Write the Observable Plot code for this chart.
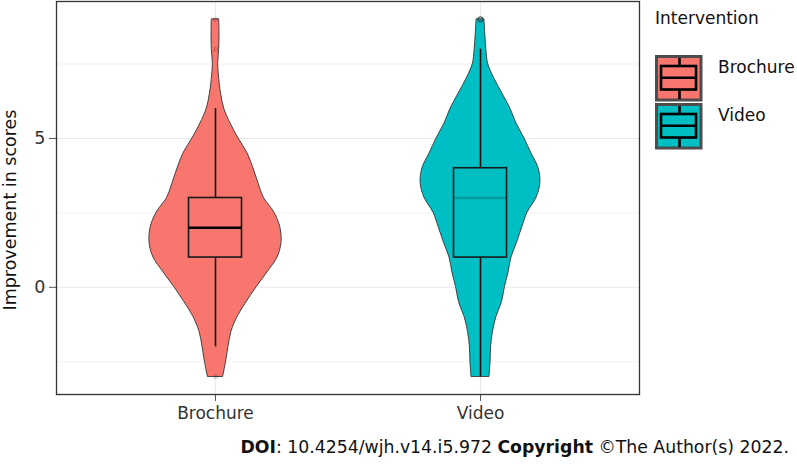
<!DOCTYPE html>
<html><head><meta charset="utf-8">
<script src="https://cdn.jsdelivr.net/npm/d3@7"></script>
<script src="https://cdn.jsdelivr.net/npm/@observablehq/plot@0.6"></script>
<style>
body{margin:0;background:#fff;font-family:"DejaVu Sans",sans-serif;}
#wrap{position:relative;width:797px;height:464px;overflow:hidden;}
#wrap > svg{position:absolute;left:0;top:0;}
#caption{position:absolute;right:8px;top:436px;font-size:17.3px;line-height:22px;color:#111;white-space:nowrap;}
</style></head><body><div id="wrap"></div>
<script>
// ---- data ----
const categories = ["Brochure", "Video"];
const colors = ["#F8766D", "#00BFC4"];
const densityY = [-3, -2.5, -2, -1.5, -1, -0.5, 0, 0.5, 1, 1.5, 2, 2.5, 3, 3.5, 4, 4.5, 5, 5.5, 6, 6.5, 7, 7.5, 8, 8.5, 9];
const brochureHalfWidth = [0.029, 0.040, 0.049, 0.060, 0.083, 0.117, 0.155, 0.196, 0.234, 0.249, 0.245, 0.223, 0.183, 0.162, 0.143, 0.121, 0.087, 0.057, 0.033, 0.021, 0.014, 0.010, 0.014, 0.015, 0.014];
const videoHalfWidth = [0.034, 0.038, 0.040, 0.047, 0.060, 0.081, 0.092, 0.106, 0.117, 0.138, 0.157, 0.177, 0.211, 0.226, 0.219, 0.192, 0.166, 0.136, 0.113, 0.083, 0.053, 0.029, 0.022, 0.018, 0.015];
const lowerQuartile = [1, 1];
const medians = [2, 3];
const upperQuartile = [3, 4];
const whiskerLow = [-2, -3];
const whiskerHigh = [6, 8];
const outlierGroup = ["Brochure", "Brochure", "Brochure", "Video"];
const outlierValue = [8, 9, -3, 9];
const yTicks = [0, 5];
const yMinorTicks = [-2.5, 2.5, 7.5];
const yTitle = "Improvement in scores";
const legendTitle = "Intervention";

// ---- tables ----
const halfWidths = [brochureHalfWidth, videoHalfWidth];
const violin = [];
categories.forEach((c, i) => densityY.forEach((y, j) => violin.push({group: c, pos: i + 1, y, w: halfWidths[i][j]})));
const boxes = categories.map((c, i) => ({group: c, pos: i + 1, q1: lowerQuartile[i], med: medians[i], q3: upperQuartile[i], lo: whiskerLow[i], hi: whiskerHigh[i]}));
const outliers = outlierGroup.map((g, i) => ({group: g, pos: categories.indexOf(g) + 1, y: outlierValue[i]}));
const bw = 0.1;

const chart = Plot.plot({
  width: 797, height: 430,
  marginTop: 1, marginLeft: 56, marginRight: 158, marginBottom: 36,
  x: {domain: [0.4, 2.6]},
  y: {domain: [-3.6, 9.6]},
  color: {domain: categories, range: colors},
  style: {fontFamily: "DejaVu Sans", fontSize: "17px", color: "#333", background: "#fff"},
  marks: [
    Plot.gridY(yMinorTicks, {stroke: "#ececec", strokeOpacity: 1, strokeWidth: 0.7}),
    Plot.gridY(yTicks, {stroke: "#e8e8e8", strokeOpacity: 1, strokeWidth: 1.1}),
    Plot.gridX([1, 2], {stroke: "#e8e8e8", strokeOpacity: 1, strokeWidth: 1.1}),
    Plot.areaX(violin, {y: "y", x1: d => d.pos - d.w, x2: d => d.pos + d.w, z: "group", fill: "group", stroke: "#333", strokeWidth: 0.9, curve: "catmull-rom"}),
    Plot.ruleX(boxes, {x: "pos", y1: "q3", y2: "hi", stroke: "#111", strokeWidth: 1.6}),
    Plot.ruleX(boxes, {x: "pos", y1: "lo", y2: "q1", stroke: "#111", strokeWidth: 1.6}),
    Plot.rect(boxes, {x1: d => d.pos - bw, x2: d => d.pos + bw, y1: "q1", y2: "q3", fill: "group", stroke: "#1a1a1a", strokeWidth: 1.6}),
    Plot.ruleY(boxes, {y: "med", x1: d => d.pos - bw, x2: d => d.pos + bw, stroke: "#000", strokeWidth: 2.4, strokeOpacity: d => d.group === "Video" ? 0.18 : 1}),
    Plot.dot(outliers, {x: "pos", y: "y", r: 2.6, fill: "#000", fillOpacity: 0.12, stroke: d => d.group === "Video" ? "#333" : "none", strokeWidth: 1}),
    Plot.axisY(yTicks, {tickSize: 7, tickPadding: 4, label: null, stroke: "#555", fill: "#333", fontSize: 17.5}),
    Plot.axisX([1, 2], {tickSize: 7, tickPadding: 5, label: null, tickFormat: d => categories[d - 1], stroke: "#555", fill: "#333", fontSize: 17}),
    Plot.frame({stroke: "#333", strokeWidth: 1.3})
  ]
});
const wrap = document.getElementById("wrap");
wrap.appendChild(chart);

// ---- overlay: y title and legend ----
const ov = d3.select(wrap).append("svg").attr("width", 797).attr("height", 464)
  .style("font-family", "DejaVu Sans").style("pointer-events", "none");
ov.append("text").attr("transform", "translate(16,210) rotate(-90)").attr("text-anchor", "middle")
  .attr("font-size", 17.5).attr("fill", "#111").text(yTitle);
ov.append("text").attr("x", 655).attr("y", 24).attr("font-size", 17).attr("fill", "#111").text(legendTitle);
categories.forEach((c, i) => {
  const top = 55 + i * 48;
  const g = ov.append("g");
  g.append("rect").attr("x", 656.5).attr("y", top + 1.5).attr("width", 44.5).attr("height", 43.5)
    .attr("fill", colors[i]).attr("stroke", "#4d4d4d").attr("stroke-width", 3);
  g.append("line").attr("x1", 679.5).attr("x2", 679.5).attr("y1", top + 3).attr("y2", top + 44).attr("stroke", "#000").attr("stroke-width", 2.6);
  g.append("rect").attr("x", 661).attr("y", top + 11).attr("width", 35).attr("height", 23.5)
    .attr("fill", colors[i]).attr("stroke", "#000").attr("stroke-width", 2.6);
  g.append("line").attr("x1", 661).attr("x2", 696).attr("y1", top + 22.7).attr("y2", top + 22.7).attr("stroke", "#000").attr("stroke-width", 2.6);
  ov.append("text").attr("x", 718).attr("y", top + 18).attr("font-size", 17).attr("fill", "#111").text(c);
});

const cap = document.createElement("div");
cap.id = "caption";
cap.innerHTML = "<b>DOI</b>: 10.4254/wjh.v14.i5.972 <b>Copyright</b> ©The Author(s) 2022.";
wrap.appendChild(cap);
</script></body></html>
